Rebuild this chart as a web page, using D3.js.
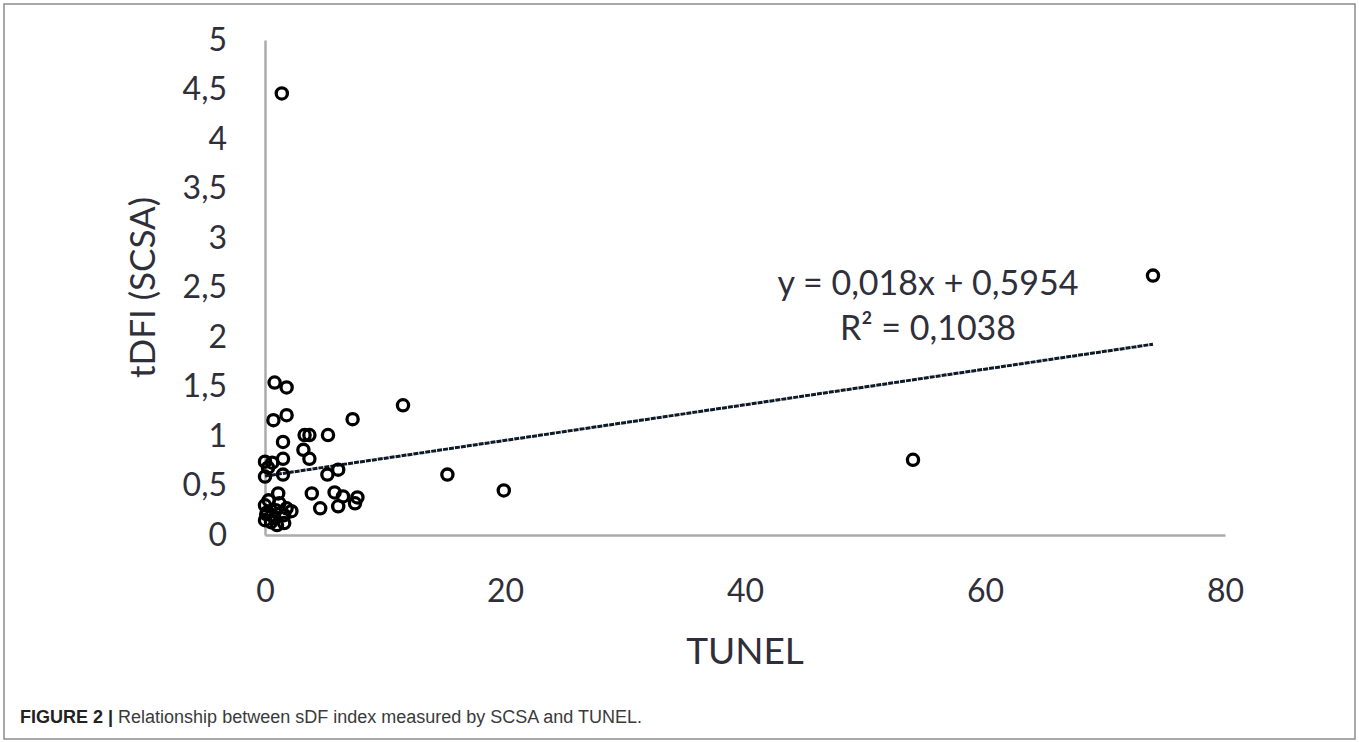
<!DOCTYPE html>
<html>
<head>
<meta charset="utf-8">
<script src="https://cdn.jsdelivr.net/npm/d3@7"></script>
<style>
  body { margin: 0; background: #fff; }
  text { font-family: Lato, "Open Sans", sans-serif; }
</style>
</head>
<body>
<div id="chart"></div>
<script>
// TUNEL (x) vs tDFI (SCSA) (y)
var tunel = [1.4, 74, 54, 15.2, 19.9, 11.5, 7.3, 5.25, 0.8, 1.8, 0.7, 1.8, 3.3, 3.7, 1.5, 3.2, 3.7, 1.5,
    0.0, 0.6, 0.25, 0.0, 1.5, 5.2, 6.1, 1.1, 3.9, 5.8, 6.5, 7.7, 7.5, 4.6, 6.1, 2.2,
    0.0, 0.3, 0.2, 0.0, 0.5, 0.9, 1.2, 1.6, 1.6, 1.0, 0.6, 1.8, 0.1, 0.8];
var tdfi = [4.46, 2.62, 0.76, 0.61, 0.45, 1.31, 1.17, 1.01, 1.54, 1.49, 1.16, 1.21, 1.01, 1.01, 0.94, 0.86, 0.77, 0.77,
    0.74, 0.73, 0.68, 0.59, 0.61, 0.61, 0.66, 0.42, 0.42, 0.43, 0.39, 0.38, 0.32, 0.27, 0.29, 0.24,
    0.30, 0.35, 0.23, 0.15, 0.13, 0.25, 0.32, 0.20, 0.12, 0.10, 0.20, 0.27, 0.21, 0.17];
var xTicks = [0, 20, 40, 60, 80];
var yTicks = [0, 0.5, 1, 1.5, 2, 2.5, 3, 3.5, 4, 4.5, 5];
var slope = 0.018, intercept = 0.5954, r2 = "0,1038";

var W = 1359, H = 742;

var svg = d3.select("#chart").append("svg")
    .attr("width", W)
    .attr("height", H);

// figure frame
svg.append("rect")
    .attr("x", 4).attr("y", 4)
    .attr("width", 1351).attr("height", 735)
    .attr("fill", "none")
    .attr("stroke", "#8c8c8c")
    .attr("stroke-width", 1.5);

var x = d3.scaleLinear().domain([0, 80]).range([265, 1225]);
var y = d3.scaleLinear().domain([0, 5]).range([535, 40]);

var comma = d3.formatLocale({decimal: ",", thousands: ".", grouping: [3], currency: ["", ""]}).format(".1~f");

var xAxis = d3.axisBottom(x).tickValues(xTicks).tickSize(0).tickPadding(44).tickFormat(comma);
var yAxis = d3.axisLeft(y).tickValues(yTicks).tickSize(0).tickPadding(38).tickFormat(comma);

var gx = svg.append("g")
    .attr("transform", "translate(0," + y(0) + ")")
    .call(xAxis);
var gy = svg.append("g")
    .attr("transform", "translate(" + x(0) + ",0)")
    .call(yAxis);

[gx, gy].forEach(function (g) {
    g.select(".domain").attr("stroke", "#ababab").attr("stroke-width", 2.5);
    g.selectAll("text")
        .attr("fill", "#2f2f3a")
        .style("font-size", "32px")
        .style("font-family", "Lato, sans-serif");
});

// trendline from the fitted equation, over the range of the data
var xMax = d3.max(tunel);
svg.append("line")
    .attr("x1", x(0)).attr("y1", y(intercept))
    .attr("x2", x(xMax)).attr("y2", y(slope * xMax + intercept))
    .attr("stroke", "#0f1a28")
    .attr("stroke-width", 3)
    .attr("stroke-dasharray", "5,1");

// points
svg.append("g").selectAll("circle")
    .data(tunel)
    .enter().append("circle")
    .attr("cx", function (d) { return x(d); })
    .attr("cy", function (d, i) { return y(tdfi[i]); })
    .attr("r", 5.6)
    .attr("fill", "none")
    .attr("stroke", "#000")
    .attr("stroke-width", 3.3);

// equation labels
svg.append("text")
    .attr("x", 928).attr("y", 295)
    .attr("text-anchor", "middle")
    .attr("fill", "#2f2f3a")
    .style("font-size", "34px")
    .text("y = 0,018x + 0,5954");
svg.append("text")
    .attr("x", 928).attr("y", 340)
    .attr("text-anchor", "middle")
    .attr("fill", "#2f2f3a")
    .style("font-size", "34px")
    .text("R² = " + r2);

// axis titles
svg.append("text")
    .attr("x", (x(0) + x(80)) / 2).attr("y", 664)
    .attr("text-anchor", "middle")
    .attr("fill", "#2f2f3a")
    .style("font-size", "37px")
    .text("TUNEL");
svg.append("text")
    .attr("transform", "translate(155," + (y(0) + y(5)) / 2 + ") rotate(-90)")
    .attr("text-anchor", "middle")
    .attr("fill", "#2f2f3a")
    .style("font-size", "35px")
    .text("tDFI (SCSA)");

// caption
var cap = svg.append("text")
    .attr("x", 20).attr("y", 723)
    .style("font-family", "'Liberation Sans', Arial, sans-serif")
    .style("font-size", "18px")
    .attr("fill", "#3a3a3a");
cap.append("tspan").style("font-weight", "bold").attr("fill", "#222").text("FIGURE 2 | ");
cap.append("tspan").text("Relationship between sDF index measured by SCSA and TUNEL.");
</script>
</body>
</html>
